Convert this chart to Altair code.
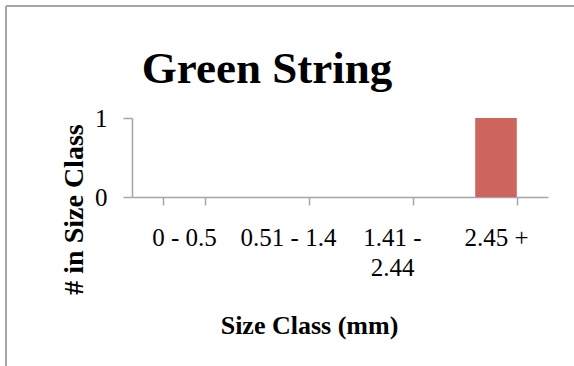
import altair as alt
import pandas as pd

# Size classes (mm) and how many pieces fell into each
categories = ["0 - 0.5", "0.51 - 1.4", "1.41 - 2.44", "2.45 +"]
counts = [0, 0, 0, 1]

# Category labels that are broken over two lines on the axis
wrapped_labels = {"1.41 - 2.44": ["1.41 -", "2.44"]}

df = pd.DataFrame({"size_class": categories, "count": counts})

label_expr = " : ".join(
    [f"datum.label == '{k}' ? {v!r}" for k, v in wrapped_labels.items()] + ["datum.label"]
)

SERIF = "Liberation Serif"
GREY = "#a6a6a6"
PLOT_W, PLOT_H = 416, 79
LEFT, TOP = 132, 118

bars = alt.Chart(df).mark_bar(color="#cd645e").encode(
    x=alt.X(
        "size_class:N",
        sort=categories,
        scale=alt.Scale(paddingInner=0.6, paddingOuter=0.3),
        axis=alt.Axis(
            title="Size Class (mm)",
            grid=False,
            labelAngle=0,
            labelExpr=label_expr,
            labelFont=SERIF,
            labelFontSize=25,
            labelColor="black",
            labelLineHeight=30,
            labelPadding=20,
            labelBaseline="top",
            tickBand="extent",
            tickSize=8,
            tickColor=GREY,
            domainColor=GREY,
            domainWidth=1.5,
            tickWidth=1.5,
            titleFont=SERIF,
            titleFontSize=26,
            titleFontWeight="bold",
            titleColor="black",
            titleX=177,
            titleY=136,
            titleAlign="center",
            titleBaseline="alphabetic",
        ),
    ),
    y=alt.Y(
        "count:Q",
        scale=alt.Scale(domain=[0, 1]),
        axis=alt.Axis(
            title="# in Size Class",
            values=[0, 1],
            format="d",
            grid=False,
            labelFont=SERIF,
            labelFontSize=25,
            labelColor="black",
            labelPadding=16,
            tickSize=9,
            tickColor=GREY,
            domainColor=GREY,
            domainWidth=1.5,
            tickWidth=1.5,
            titleFont=SERIF,
            titleFontSize=28,
            titleFontWeight="bold",
            titleColor="black",
            titleAngle=270,
            titleX=-50,
            titleY=91,
            titleAlign="center",
            titleBaseline="alphabetic",
        ),
    ),
)

# Outer chart frame (top and left edges)
frame_src = alt.Chart(pd.DataFrame({"edge": [0]}))
frame_top = frame_src.mark_rule(color=GREY, strokeWidth=2).encode(
    x=alt.value(6 - LEFT), x2=alt.value(574 - LEFT), y=alt.value(6 - TOP)
)
frame_left = frame_src.mark_rule(color=GREY, strokeWidth=2).encode(
    x=alt.value(6 - LEFT), y=alt.value(6 - TOP), y2=alt.value(366 - TOP)
)

chart = (
    alt.layer(bars, frame_top, frame_left)
    .properties(
        width=PLOT_W,
        height=PLOT_H,
        view=alt.ViewBackground(stroke="transparent", strokeWidth=0),
        autosize=alt.AutoSizeParams(type="none"),
        padding={"left": LEFT, "top": TOP, "right": 574 - LEFT - PLOT_W, "bottom": 366 - TOP - PLOT_H},
        title=alt.Title(
            "Green String",
            font=SERIF,
            fontSize=45,
            fontWeight="bold",
            color="black",
            anchor="middle",
            baseline="alphabetic",
            dx=-73,
            dy=123,
            offset=0,
        ),
    )
    .configure_view(stroke="transparent", strokeWidth=0)
    .configure_axis(grid=False)
    .configure(background="white")
)

chart.save("out.html", embed_options={"renderer": "svg", "actions": False})
